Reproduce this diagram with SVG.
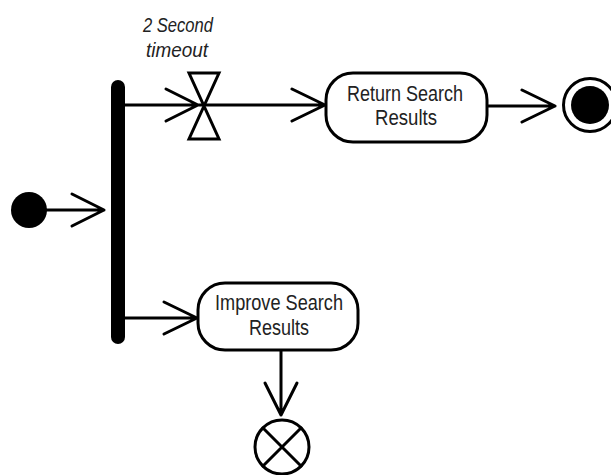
<svg xmlns="http://www.w3.org/2000/svg" width="611" height="475" viewBox="0 0 611 475">
<style>
.ln{fill:none;stroke:#000;stroke-width:3;stroke-linecap:round;stroke-linejoin:round}
.box{fill:#fff;stroke:#000;stroke-width:3}
.t{font-family:"Liberation Sans",sans-serif;font-size:22px;fill:#222;text-anchor:middle}
.lab{font-family:"Liberation Sans",sans-serif;font-size:21px;font-style:italic;fill:#222;text-anchor:middle}
</style>
<rect width="611" height="475" fill="#fff"/>
<g id="connectors">
<path class="ln" d="M46 210 H104 M72 194 L104 210 L72 226"/>
<path class="ln" d="M118 105 H203 M166 89 L198 105 L166 121"/>
<path class="ln" d="M204 105 H325 M292 89 L325 105 L292 121"/>
<path class="ln" d="M487 106 H555 M522 90 L555 106 L522 122"/>
<path class="ln" d="M281 350 V415 M265 383 L281 415 L297 383"/>
<path class="ln" d="M118 318 H197 M164 302 L197 318 L164 334"/>
</g>
<g id="initial"><circle cx="29" cy="210" r="18" fill="#000"/></g>
<g id="fork"><rect x="111" y="80" width="14" height="264" rx="7" fill="#000"/></g>
<g id="timeout">
<path class="ln" d="M189 73 H219 L189 139 H219 Z" style="stroke-linejoin:miter"/>
<text class="lab" x="178" y="32" textLength="70" lengthAdjust="spacingAndGlyphs">2 Second</text>
<text class="lab" x="177" y="57" textLength="62" lengthAdjust="spacingAndGlyphs">timeout</text>
</g>
<g id="return">
<rect class="box" x="326" y="73" width="161" height="69" rx="27"/>
<text class="t" x="405" y="101" textLength="116" lengthAdjust="spacingAndGlyphs">Return Search</text>
<text class="t" x="406" y="125" textLength="62" lengthAdjust="spacingAndGlyphs">Results</text>
</g>
<g id="final">
<circle cx="590" cy="105" r="26.5" fill="#fff" stroke="#000" stroke-width="3"/>
<circle cx="590" cy="105" r="19" fill="#000"/>
</g>
<g id="improve">
<rect class="box" x="198" y="283" width="160" height="67" rx="27"/>
<text class="t" x="279" y="310" textLength="128" lengthAdjust="spacingAndGlyphs">Improve Search</text>
<text class="t" x="279" y="335" textLength="60" lengthAdjust="spacingAndGlyphs">Results</text>
</g>
<g id="flowfinal">
<circle cx="282" cy="447" r="27" fill="#fff" stroke="#000" stroke-width="3"/>
<path class="ln" d="M263 428 L301 466 M301 428 L263 466"/>
</g>
</svg>
